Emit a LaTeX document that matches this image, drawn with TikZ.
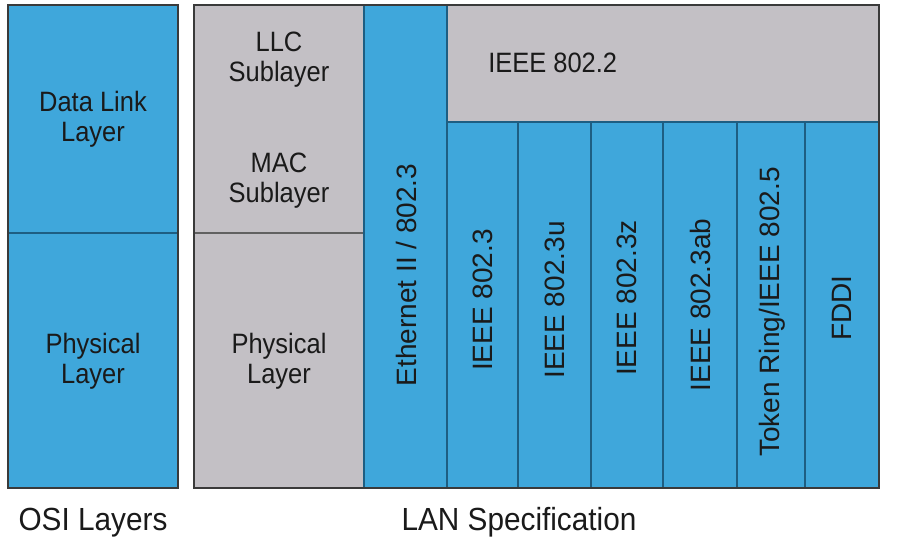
\documentclass[tikz,border=0pt]{standalone}
\usepackage{fontspec}
\setmainfont{Liberation Sans}
\usepackage{graphicx}
\definecolor{blu}{HTML}{3FA7DB}
\definecolor{gry}{HTML}{C3C0C5}
\definecolor{edgec}{HTML}{3A3A3A}
\definecolor{gridc}{HTML}{1E5E82}
\definecolor{ink}{HTML}{1A1A1A}
\newcommand\hx[1]{\scalebox{0.91}[1]{#1}}
\newcommand\hy[1]{\scalebox{0.93}[1]{#1}}
\begin{document}
\begin{tikzpicture}[x=0.75pt,y=-0.75pt,
  lbl/.style={text=ink, font=\fontsize{21}{22.5}\selectfont, align=center, inner sep=0pt},
  vlbl/.style={lbl, rotate=90},
  caption/.style={text=ink, font=\fontsize{24}{26}\selectfont, inner sep=0pt, anchor=base},
  outer/.style={draw=edgec, line width=1.5pt},
  gline/.style={draw=gridc, line width=1pt},
  sline/.style={draw=edgec!80, line width=1pt}]
\fill[white] (0,0) rectangle (919,542);
\useasboundingbox (0,0) rectangle (919,542);

% OSI layers column
\fill[blu] (8,5) rectangle (178,488);
\draw[gline] (8,233) -- (178,233);
\draw[outer] (8,5) rectangle (178,488);
\node[lbl] (dll) at (93,119) {\hx{Data Link}\\\hx{Layer}};
\node[lbl] (phy1) at (93,361) {\hx{Physical}\\\hx{Layer}};

% LAN specification
\fill[gry] (194,5) rectangle (364,488);
\fill[blu] (364,5) rectangle (447,488);
\fill[gry] (447,5) rectangle (879,122);
\fill[blu] (447,122) rectangle (879,488);
\draw[sline] (194,233) -- (364,233);
\draw[gline] (364,5) -- (364,488);
\draw[gline] (447,5) -- (447,488);
\draw[gline] (447,122) -- (879,122);
\foreach \xx in {518,591,663,737,805} \draw[gline] (\xx,122) -- (\xx,488);
\draw[outer] (194,5) rectangle (879,488);

\node[lbl] (llc) at (279,60) {\hx{LLC}\\\hx{Sublayer}};
\node[lbl] (mac) at (279,181) {\hx{MAC}\\\hx{Sublayer}};
\node[lbl] (phy2) at (279,361) {\hx{Physical}\\\hx{Layer}};
\node[lbl, anchor=base west] (ieee) at (488,73) {\hx{IEEE 802.2}};

\node[vlbl] (eth) at (406,275) {Ethernet II / 802.3};
\node[vlbl] (c1) at (483,300) {IEEE 802.3};
\node[vlbl] (c2) at (555,300) {IEEE 802.3u};
\node[vlbl] (c3) at (627,298) {IEEE 802.3z};
\node[vlbl] (c4) at (700,305) {IEEE 802.3ab};
\node[vlbl] (c5) at (772,312) {Token Ring/IEEE 802.5};
\node[vlbl] (c6) at (842,308) {FDDI};

\node[caption] (osi) at (93,530) {\hy{OSI Layers}};
\node[caption] (lan) at (519,530) {\hy{LAN Specification}};
\end{tikzpicture}
\end{document}
